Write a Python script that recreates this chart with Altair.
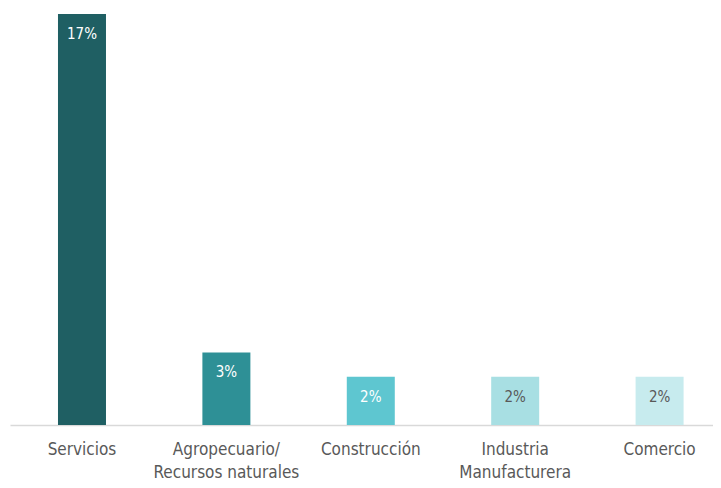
import altair as alt
import pandas as pd

categories = ["Servicios", "Agropecuario/|Recursos naturales", "Construcción", "Industria|Manufacturera", "Comercio"]
values = [17, 3, 2, 2, 2]
labels = ["17%", "3%", "2%", "2%", "2%"]
bar_colors = ["#1F5F63", "#2E9096", "#5EC6D0", "#A8DFE3", "#C7EBEE"]
text_colors = ["#FFFFFF", "#FFFFFF", "#FFFFFF", "#595959", "#595959"]

df = pd.DataFrame({"cat": categories, "val": values, "lab": labels,
                   "bc": bar_colors, "tc": text_colors})

font = "DejaVu Sans Condensed"

x = alt.X("cat:N", sort=categories,
          scale=alt.Scale(paddingInner=0.6676, paddingOuter=0.268, align=0.62),
          axis=alt.Axis(title=None, labelAngle=0, domainColor="#D9D9D9", domainWidth=1.5,
                        ticks=False, labelFont=font, labelFontSize=17, labelColor="#595959",
                        labelPadding=16, labelBaseline="top", labelLineHeight=23,
                        labelExpr="split(datum.label, '|')"))
y = alt.Y("val:Q", scale=alt.Scale(domain=[0, 17], nice=False, zero=True), axis=None)

bars = alt.Chart(df).mark_bar().encode(x=x, y=y, color=alt.Color("bc:N", scale=None))
text = alt.Chart(df).mark_text(dy=20, baseline="middle", font=font, fontSize=15).encode(
    x=alt.X("cat:N", sort=categories), y=y, text="lab:N", color=alt.Color("tc:N", scale=None))

chart = (bars + text).properties(
    width=703, height=411,
    background="white",
    autosize=alt.AutoSizeParams(type="none"),
    padding={"left": 2, "top": 6, "right": 0, "bottom": 55},
).configure_view(strokeWidth=0)

chart.save("out.html", embed_options={"renderer": "svg", "actions": False})
